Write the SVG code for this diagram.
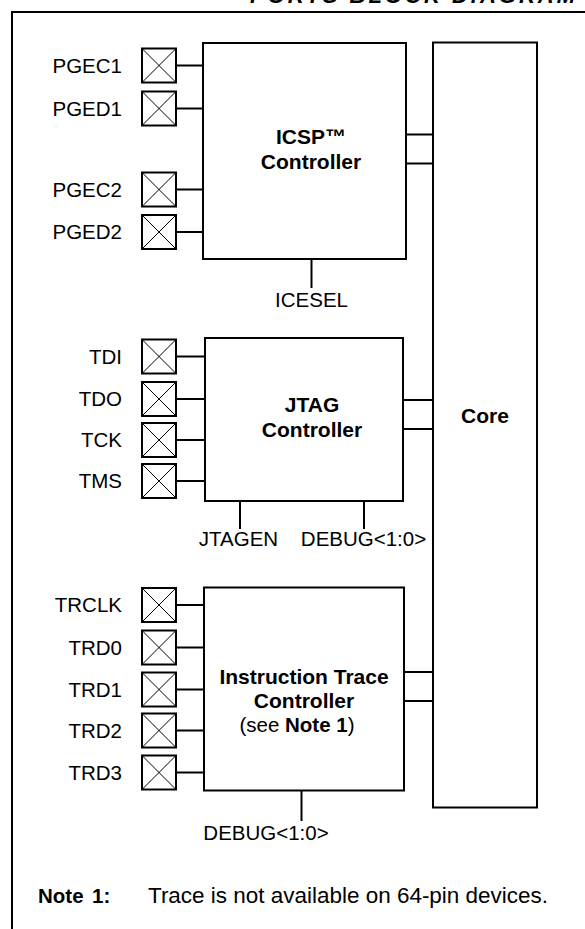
<svg xmlns="http://www.w3.org/2000/svg" width="585" height="929" viewBox="0 0 585 929">
<style>
text{font-family:"Liberation Sans",Arial,sans-serif;fill:#000}
.lbl{font-size:20.5px}
.lblr{font-size:20.5px;text-anchor:end}
.ttl{font-size:21px;font-weight:bold;text-anchor:middle}
.mid{text-anchor:middle}
.b{font-weight:bold}
.box{fill:#fff;stroke:#000;stroke-width:2}
.pad{fill:#fff;stroke:#000;stroke-width:2}
.x{stroke:#000;stroke-width:1;fill:none}
.w{stroke:#000;stroke-width:2;fill:none}
.frame{stroke:#000;stroke-width:2;fill:none}
</style>
<defs>
<g id="padsym">
<rect class="pad" x="0" y="-17" width="34" height="34"/>
<path class="x" d="M0,-17L34,17M34,-17L0,17"/>
</g>
</defs>
<text x="250" y="2.5" style="font-size:22px;font-weight:bold;font-style:italic" textLength="325" lengthAdjust="spacing">PORTS BLOCK DIAGRAM</text>
<path class="frame" d="M12,929V12H585"/>
<g id="connectors">
<path class="w" d="M177,65.5H204M177,108.5H204M177,189.5H204M177,232H204"/>
<path class="w" d="M177,356.5H205M177,399H205M177,440H205M177,481H205"/>
<path class="w" d="M177,605H204M177,647.5H204M177,689.5H204M177,730.5H204M177,772.5H204"/>
<path class="w" d="M406,134.5H433M406,163.5H433"/>
<path class="w" d="M403,400H433M403,429H433"/>
<path class="w" d="M404,672H433M404,701H433"/>
<path class="w" d="M311.5,259V288"/>
<path class="w" d="M240,501V529M364,501V529"/>
<path class="w" d="M301.5,791V821"/>
</g>
<g id="core">
<rect class="box" x="433" y="42.5" width="104" height="765"/>
<text class="ttl" x="485" y="423">Core</text>
</g>
<g id="icsp">
<rect class="box" x="203" y="43" width="203" height="216"/>
<text class="ttl" x="311" y="144">ICSP™</text>
<text class="ttl" x="311" y="169">Controller</text>
</g>
<g id="jtag">
<rect class="box" x="205" y="338" width="198" height="163"/>
<text class="ttl" x="312" y="412">JTAG</text>
<text class="ttl" x="312" y="437">Controller</text>
</g>
<g id="trace">
<rect class="box" x="204" y="587.5" width="200" height="203"/>
<text class="ttl" x="304" y="684">Instruction Trace</text>
<text class="ttl" x="304" y="708">Controller</text>
<text class="lbl mid" x="297" y="732">(see <tspan class="b">Note 1</tspan>)</text>
</g>
<g id="pads-icsp">
<use href="#padsym" x="142" y="65.5"/><text class="lblr" x="122" y="72.5">PGEC1</text>
<use href="#padsym" x="142" y="108.5"/><text class="lblr" x="122" y="115.5">PGED1</text>
<use href="#padsym" x="142" y="189.5"/><text class="lblr" x="122" y="196.5">PGEC2</text>
<use href="#padsym" x="142" y="232"/><text class="lblr" x="122" y="239">PGED2</text>
</g>
<g id="pads-jtag">
<use href="#padsym" x="142" y="356.5"/><text class="lblr" x="122" y="363.5">TDI</text>
<use href="#padsym" x="142" y="399"/><text class="lblr" x="122" y="406">TDO</text>
<use href="#padsym" x="142" y="440"/><text class="lblr" x="122" y="447">TCK</text>
<use href="#padsym" x="142" y="481"/><text class="lblr" x="122" y="488">TMS</text>
</g>
<g id="pads-trace">
<use href="#padsym" x="142" y="605"/><text class="lblr" x="122" y="612">TRCLK</text>
<use href="#padsym" x="142" y="647.5"/><text class="lblr" x="122" y="654.5">TRD0</text>
<use href="#padsym" x="142" y="689.5"/><text class="lblr" x="122" y="696.5">TRD1</text>
<use href="#padsym" x="142" y="730.5"/><text class="lblr" x="122" y="737.5">TRD2</text>
<use href="#padsym" x="142" y="772.5"/><text class="lblr" x="122" y="779.5">TRD3</text>
</g>
<g id="signals">
<text class="lbl mid" x="311.5" y="306.5">ICESEL</text>
<text class="lbl mid" x="238.5" y="546">JTAGEN</text>
<text class="lbl mid" x="363.5" y="546">DEBUG&lt;1:0&gt;</text>
<text class="lbl mid" x="266" y="840">DEBUG&lt;1:0&gt;</text>
</g>
<g id="note">
<text class="b" x="38" y="903" style="font-size:20.5px">Note</text>
<text class="b" x="92" y="903" style="font-size:20.5px">1:</text>
<text x="148" y="903" style="font-size:22px" textLength="400" lengthAdjust="spacingAndGlyphs">Trace is not available on 64-pin devices.</text>
</g>
</svg>
